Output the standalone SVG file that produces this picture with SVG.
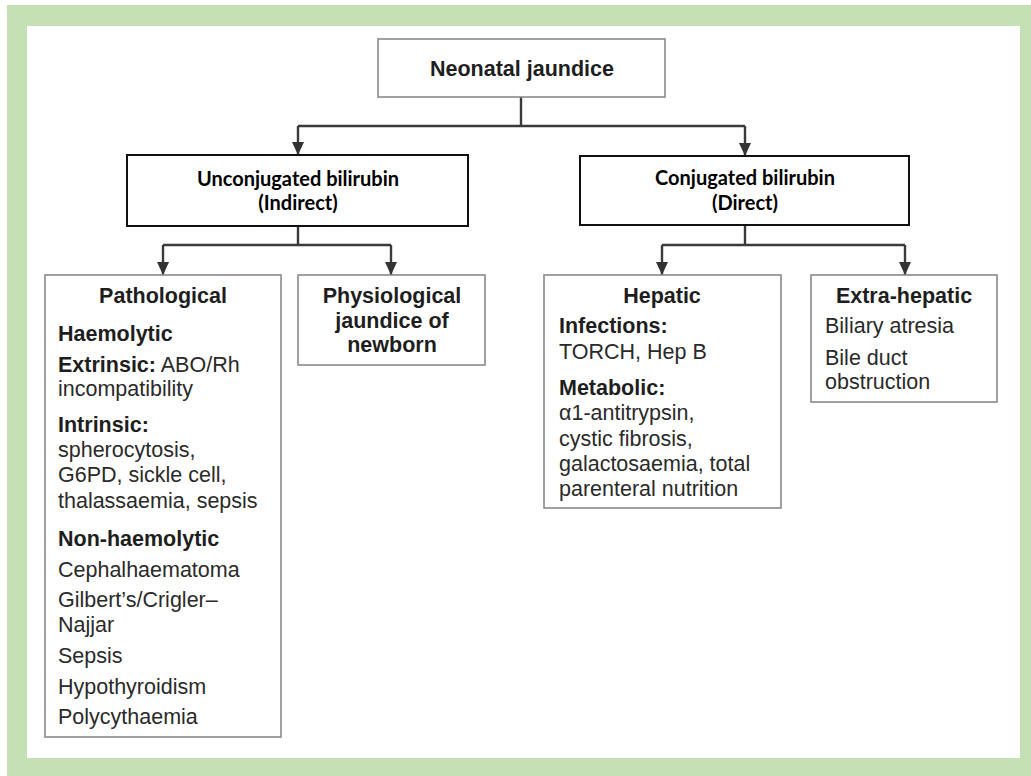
<svg xmlns="http://www.w3.org/2000/svg" width="1031" height="776" viewBox="0 0 1031 776">
<defs>
<style>
.frame{fill:#c5e0b4}
.gbox{fill:#fff;stroke:#8a8a8a;stroke-width:1.6}
.bbox{fill:#fff;stroke:#111;stroke-width:2}
.conn{fill:none;stroke:#3a3a3a;stroke-width:2.4}
.h{font-family:"Liberation Sans",Arial,sans-serif;font-weight:700;font-size:21.5px;fill:#1e1e1e}
.t{font-family:"Liberation Sans",Arial,sans-serif;font-size:21.5px;fill:#2a2a2a}
.c{font-family:Lato,"Open Sans",sans-serif;font-weight:700;font-size:20px;fill:#000}
.mid{text-anchor:middle}
</style>
<marker id="arr" markerUnits="userSpaceOnUse" markerWidth="14" markerHeight="12" refX="13" refY="6" orient="auto" viewBox="0 0 14 12">
<path d="M0,0 L13,6 L0,12 Z" fill="#333"/>
</marker>
</defs>
<rect x="0" y="0" width="1031" height="776" fill="#fff"/>
<rect class="frame" x="7" y="5" width="1024" height="771"/>
<rect x="27" y="26" width="993" height="732" fill="#fff"/>

<g id="connectors">
<path class="conn" d="M521,97 V126"/>
<path class="conn" d="M298,126 H745"/>
<path class="conn" d="M298,126 V155" marker-end="url(#arr)"/>
<path class="conn" d="M745,126 V156" marker-end="url(#arr)"/>
<path class="conn" d="M298,226 V245"/>
<path class="conn" d="M163,245 H391"/>
<path class="conn" d="M163,245 V275" marker-end="url(#arr)"/>
<path class="conn" d="M391,245 V275" marker-end="url(#arr)"/>
<path class="conn" d="M745,225 V245"/>
<path class="conn" d="M662,245 H905"/>
<path class="conn" d="M662,245 V275" marker-end="url(#arr)"/>
<path class="conn" d="M905,245 V275" marker-end="url(#arr)"/>
</g>

<g id="neonatal">
<rect class="gbox" x="378" y="39" width="287" height="58"/>
<text class="h mid" x="522" y="76">Neonatal jaundice</text>
</g>

<g id="unconjugated">
<rect class="bbox" x="127" y="155" width="341" height="71"/>
<text class="c mid" x="298" y="186">Unconjugated bilirubin</text>
<text class="c mid" x="298" y="210">(Indirect)</text>
</g>

<g id="conjugated">
<rect class="bbox" x="580" y="156" width="329" height="69"/>
<text class="c mid" x="745" y="185">Conjugated bilirubin</text>
<text class="c mid" x="745" y="209.5">(Direct)</text>
</g>

<g id="pathological">
<rect class="gbox" x="45" y="275" width="236" height="462"/>
<text class="h mid" x="163" y="303">Pathological</text>
<text class="h" x="58" y="341">Haemolytic</text>
<text x="58" y="372"><tspan class="h">Extrinsic:</tspan><tspan class="t"> ABO/Rh</tspan></text>
<text class="t" x="58" y="396">incompatibility</text>
<text class="h" x="58" y="432">Intrinsic:</text>
<text class="t" x="58" y="457">spherocytosis,</text>
<text class="t" x="58" y="482">G6PD, sickle cell,</text>
<text class="t" x="58" y="508">thalassaemia, sepsis</text>
<text class="h" x="58" y="546">Non-haemolytic</text>
<text class="t" x="58" y="577">Cephalhaematoma</text>
<text class="t" x="58" y="607">Gilbert’s/Crigler–</text>
<text class="t" x="58" y="632">Najjar</text>
<text class="t" x="58" y="663">Sepsis</text>
<text class="t" x="58" y="694">Hypothyroidism</text>
<text class="t" x="58" y="724">Polycythaemia</text>
</g>

<g id="physiological">
<rect class="gbox" x="298" y="275" width="187" height="90"/>
<text class="h mid" x="392" y="303">Physiological</text>
<text class="h mid" x="392" y="328">jaundice of</text>
<text class="h mid" x="392" y="352">newborn</text>
</g>

<g id="hepatic">
<rect class="gbox" x="544" y="275" width="237" height="233"/>
<text class="h mid" x="662" y="303">Hepatic</text>
<text class="h" x="559" y="333">Infections:</text>
<text class="t" x="559" y="359">TORCH, Hep B</text>
<text class="h" x="559" y="395">Metabolic:</text>
<text class="t" x="559" y="420">α1-antitrypsin,</text>
<text class="t" x="559" y="446">cystic fibrosis,</text>
<text class="t" x="559" y="471">galactosaemia, total</text>
<text class="t" x="559" y="496">parenteral nutrition</text>
</g>

<g id="extrahepatic">
<rect class="gbox" x="811" y="275" width="186" height="127"/>
<text class="h mid" x="904" y="303">Extra-hepatic</text>
<text class="t" x="825" y="333">Biliary atresia</text>
<text class="t" x="825" y="365">Bile duct</text>
<text class="t" x="825" y="389">obstruction</text>
</g>
</svg>
